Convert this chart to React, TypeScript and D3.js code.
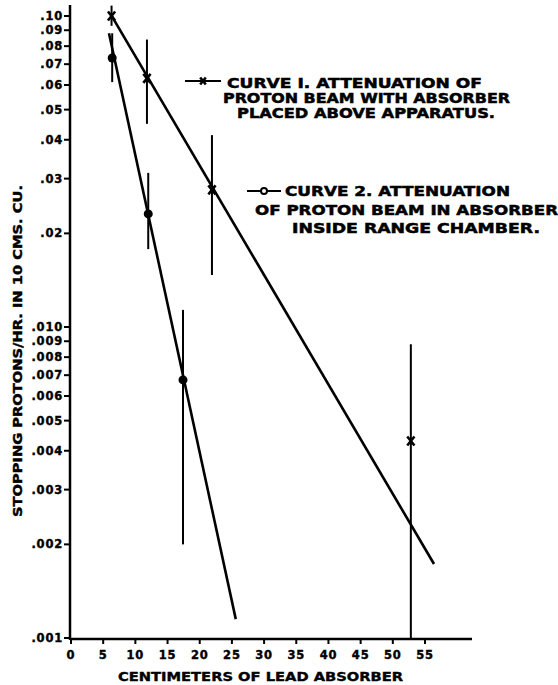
import React from "react";
import * as d3 from "d3";

// ---- data ----
const xTicks = [0, 5, 10, 15, 20, 25, 30, 35, 40, 45, 50, 55];
const yTickValues = [0.1, 0.09, 0.08, 0.07, 0.06, 0.05, 0.04, 0.03, 0.02, 0.01, 0.009, 0.008, 0.007, 0.006, 0.005, 0.004, 0.003, 0.002, 0.001];
const yTickLabels = [".10", ".09", ".08", ".07", ".06", ".05", ".04", ".03", ".02", ".010", ".009", ".008", ".007", ".006", ".005", ".004", ".003", ".002", ".001"];

// Curve 1 (x markers)
const c1X = [6.3, 11.8, 21.9, 52.8];
const c1Y = [0.1, 0.063, 0.0276, 0.0043];
const c1Lo = [0.093, 0.045, 0.0147, 0.001];
const c1Hi = [0.108, 0.084, 0.0414, 0.0088];
const c1FitX = [6.2, 56.4];
const c1FitY = [0.101, 0.00173];

// Curve 2 (filled circles)
const c2X = [6.4, 12.0, 17.4];
const c2Y = [0.0733, 0.0231, 0.00676];
const c2Lo = [0.0613, 0.0178, 0.002];
const c2Hi = [0.088, 0.0313, 0.01135];
const c2FitX = [5.9, 25.6];
const c2FitY = [0.088, 0.00115];

const legend1 = ["CURVE I. ATTENUATION OF", "PROTON BEAM WITH ABSORBER", "PLACED ABOVE APPARATUS."];
const legend2 = ["CURVE 2. ATTENUATION", "OF PROTON BEAM IN ABSORBER", "INSIDE RANGE CHAMBER."];
const xTitle = "CENTIMETERS OF LEAD ABSORBER";
const yTitle = "STOPPING PROTONS/HR. IN 10 CMS. CU.";

export default function App() {
  const W = 558, H = 685;
  const x = d3.scaleLinear().domain([0, 55]).range([71, 425]);
  const y = d3.scaleLog().domain([0.001, 0.1]).range([638, 16]);
  const axisX = 70, axisY = 639;
  const font = "'DejaVu Sans', sans-serif";
  const line = d3.line<[number, number]>().x(d => x(d[0])).y(d => y(d[1]));
  const fit1 = c1FitX.map((v, i) => [v, c1FitY[i]] as [number, number]);
  const fit2 = c2FitX.map((v, i) => [v, c2FitY[i]] as [number, number]);

  const xMark = (cx: number, cy: number, s = 4) => (
    <g stroke="#000" strokeWidth={2.6}>
      <line x1={cx - s * 0.8} y1={cy - s} x2={cx + s * 0.8} y2={cy + s} />
      <line x1={cx - s * 0.8} y1={cy + s} x2={cx + s * 0.8} y2={cy - s} />
    </g>
  );

  const legLines1 = [
    { t: legend1[0], x: 227, y: 88, w: 255 },
    { t: legend1[1], x: 223, y: 103, w: 287 },
    { t: legend1[2], x: 237, y: 118, w: 258 },
  ];
  const legLines2 = [
    { t: legend2[0], x: 285, y: 196, w: 225 },
    { t: legend2[1], x: 255, y: 215, w: 303 },
    { t: legend2[2], x: 292, y: 233, w: 248 },
  ];

  return (
    <svg width={W} height={H} style={{ position: "absolute", left: 0, top: 0, background: "#fff" }} fontFamily={font} fontWeight="bold">
      <rect x={0} y={0} width={W} height={H} fill="#fff" />
      {/* axes */}
      <line x1={axisX} y1={5} x2={axisX} y2={axisY + 1} stroke="#000" strokeWidth={2.5} />
      <line x1={axisX} y1={axisY} x2={472} y2={axisY} stroke="#000" strokeWidth={2.5} />
      {yTickValues.map((v, i) => (
        <g key={"yt" + i}>
          <line x1={axisX - 6} x2={axisX} y1={y(v)} y2={y(v)} stroke="#000" strokeWidth={2} />
          <text x={63} y={y(v)} dy="0.35em" textAnchor="end" fontSize={11.5} letterSpacing={0.8} stroke="#000" strokeWidth={0.4}>{yTickLabels[i]}</text>
        </g>
      ))}
      {xTicks.map((v, i) => (
        <g key={"xt" + i}>
          <line x1={x(v)} x2={x(v)} y1={axisY} y2={axisY + 5} stroke="#000" strokeWidth={2} />
          <text x={x(v)} y={659} textAnchor="middle" fontSize={11.5} letterSpacing={0.8} stroke="#000" strokeWidth={0.4}>{v}</text>
        </g>
      ))}
      <text x={118} y={681} fontSize={13} textLength={285} lengthAdjust="spacingAndGlyphs" stroke="#000" strokeWidth={0.4}>{xTitle}</text>
      <text transform={`translate(22,517) rotate(-90)`} fontSize={12} textLength={332} lengthAdjust="spacingAndGlyphs" stroke="#000" strokeWidth={0.4}>{yTitle}</text>

      {/* fitted lines */}
      <path d={line(fit1) || ""} fill="none" stroke="#000" strokeWidth={2.6} />
      <path d={line(fit2) || ""} fill="none" stroke="#000" strokeWidth={2.6} />

      {/* curve 1 error bars and marks */}
      {c1X.map((v, i) => (
        <g key={"c1" + i}>
          <line x1={x(v)} x2={x(v)} y1={y(c1Lo[i])} y2={y(c1Hi[i])} stroke="#000" strokeWidth={2} />
          {xMark(x(v), y(c1Y[i]), 4.5)}
        </g>
      ))}
      {/* curve 2 */}
      {c2X.map((v, i) => (
        <g key={"c2" + i}>
          <line x1={x(v)} x2={x(v)} y1={y(c2Lo[i])} y2={y(c2Hi[i])} stroke="#000" strokeWidth={2} />
          <circle cx={x(v)} cy={y(c2Y[i])} r={4.5} fill="#000" />
        </g>
      ))}

      {/* legend */}
      <line x1={185} x2={221} y1={81} y2={81} stroke="#000" strokeWidth={2.2} />
      {xMark(203, 81, 3.5)}
      {legLines1.map((l, i) => (
        <text key={"l1" + i} x={l.x} y={l.y} fontSize={13.5} textLength={l.w} lengthAdjust="spacingAndGlyphs" stroke="#000" strokeWidth={0.5}>{l.t}</text>
      ))}
      <line x1={247} x2={281} y1={191} y2={191} stroke="#000" strokeWidth={2.2} />
      <circle cx={264} cy={191} r={3} fill="#fff" stroke="#000" strokeWidth={2} />
      {legLines2.map((l, i) => (
        <text key={"l2" + i} x={l.x} y={l.y} fontSize={13.5} textLength={l.w} lengthAdjust="spacingAndGlyphs" stroke="#000" strokeWidth={0.5}>{l.t}</text>
      ))}
    </svg>
  );
}
